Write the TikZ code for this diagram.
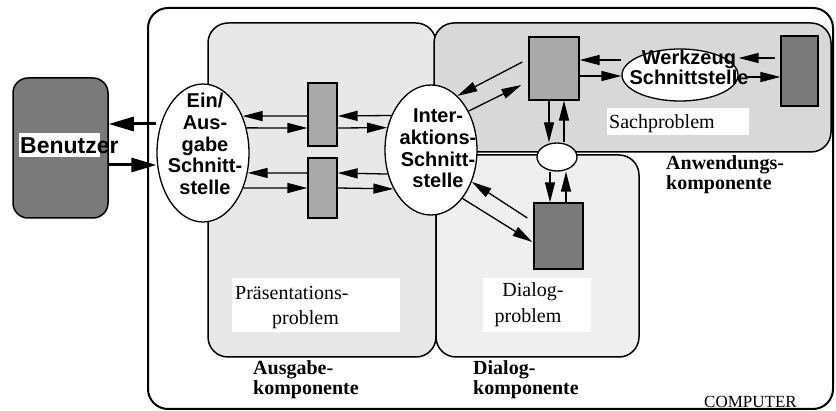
\documentclass[tikz,border=0pt]{standalone}
\usepackage{fontspec}
\setmainfont{Liberation Serif}
\newfontfamily\sansfont{Liberation Sans}
\usetikzlibrary{arrows.meta,shapes.geometric,calc}
\definecolor{darkbox}{HTML}{7A7A7A}
\definecolor{midbox}{HTML}{A9A9A9}
\definecolor{ausg}{HTML}{E8E8E8}
\definecolor{anw}{HTML}{D8D8D8}
\definecolor{dlg}{HTML}{EFEFEF}
\tikzset{
  region/.style={draw, line width=1.5pt, rounded corners=20pt},
  ell/.style={ellipse, draw, fill=white, line width=1.3pt, inner sep=0pt},
  box/.style={rectangle, draw, line width=1.3pt, inner sep=0pt},
  arr/.style={line width=1.3pt, -{Triangle[length=20pt,width=10pt]}},
  bigarr/.style={line width=3pt, -{Triangle[length=25pt,width=14pt]}},
  sl/.style={font=\sansfont\bfseries\fontsize{20}{22}\selectfont, inner sep=0pt, anchor=base},
  sr/.style={font=\fontsize{20}{22}\selectfont, inner sep=0pt},
  br/.style={font=\bfseries\fontsize{20}{22}\selectfont, inner sep=0pt, anchor=base west},
}
\begin{document}
\begin{tikzpicture}[x=1pt,y=-1pt]
\useasboundingbox (0,0) rectangle (836,411);
% computer
\draw[line width=2pt, rounded corners=20pt] (148,8) rectangle (833,409);
% regions
\draw[region, fill=ausg] (208,23) rectangle (436,357);
\draw[region, fill=anw] (434,23) rectangle (831,152);
\draw[region, fill=dlg] (436,155) rectangle (639,357);
% Benutzer
\node[box, fill=darkbox, rounded corners=15pt, minimum width=95pt, minimum height=140pt, line width=1.5pt] (ben) at (60.5,148) {};
\fill[white] (19,133) rectangle (100,157);
\node[font=\sansfont\bfseries\fontsize{23}{25}\selectfont, inner sep=0pt, anchor=base west] (bent) at (20,154) {Benutzer};
% rectangles
\node[box, fill=midbox, minimum width=29pt, minimum height=63pt] (r1) at (322.5,114.5) {};
\node[box, fill=midbox, minimum width=29pt, minimum height=60pt] (r2) at (322.5,188) {};
\node[box, fill=midbox, minimum width=50pt, minimum height=63pt] (ra) at (554,68.5) {};
\node[box, fill=darkbox, minimum width=37pt, minimum height=70pt] (rr) at (799.5,71) {};
\node[box, fill=darkbox, minimum width=49pt, minimum height=66pt] (rd) at (558.5,236) {};
% ellipses
\node[ell, minimum width=92pt, minimum height=138pt] (ea) at (203,153) {};
\node[ell, minimum width=92pt, minimum height=130pt] (ia) at (431,150) {};
\node[ell, minimum width=116pt, minimum height=52pt] (wz) at (680,75) {};
\node[ell, minimum width=40pt, minimum height=28pt] (se) at (557,157) {};
% ellipse texts
\node[sl] (ea1) at (205,108) {Ein/};
\node[sl] (ea2) at (205,130) {Aus-};
\node[sl] (ea3) at (205,152) {gabe};
\node[sl] (ea4) at (205,173) {Schnitt-};
\node[sl] (ea5) at (205,195) {stelle};
\node[sl] (ia1) at (438,123) {Inter-};
\node[sl] (ia2) at (438,145) {aktions-};
\node[sl] (ia3) at (438,167) {Schnitt-};
\node[sl] (ia4) at (438,188) {stelle};
\node[sl] (wz1) at (689,65) {Werkzeug};
\node[sl] (wz2) at (689,85) {Schnittstelle};
% serif labels with white boxes
\fill[white] (232,278) rectangle (400,332);
\node[sr, anchor=base west] (p1) at (235,300) {Präsentations-};
\node[sr, anchor=base west] (p2) at (272,325) {problem};
\fill[white] (483,278) rectangle (591,332);
\node[sr, anchor=base] (d1) at (533,297) {Dialog-};
\node[sr, anchor=base] (d2) at (528,323) {problem};
\fill[white] (607,108) rectangle (749,135);
\node[sr, anchor=base west] (s1) at (609,129) {Sachproblem};
% component labels
\node[br] (k1) at (253,375) {Ausgabe-};
\node[br] (k2) at (253,395) {komponente};
\node[br] (k3) at (666,170) {Anwendungs-};
\node[br] (k4) at (666,190) {komponente};
\node[br] (k5) at (473,375) {Dialog-};
\node[br] (k6) at (473,395) {komponente};
\node[font=\fontsize{17}{19}\selectfont, inner sep=0pt, anchor=base west] (comp) at (704,408) {COMPUTER};
% arrows user
\draw[bigarr] (ea.west |- 0,124) -- (ben.east |- 0,124);
\draw[bigarr] (ben.east |- 0,165) -- (ea.west |- 0,165);
% presentation arrows
\draw[arr] (r1.west |- 0,116) -- (ea.43.6);
\draw[arr] (ea.30.2) -- (r1.west |- 0,128);
\draw[arr] (ia.139.1) -- (r1.east |- 0,116);
\draw[arr] (r1.east |- 0,128) -- (ia.153.1);
\draw[arr] (r2.west |- 0,173) -- (ea.-24.4);
\draw[arr] (ea.-41.5) -- (r2.west |- 0,188);
\draw[arr] (ia.-151.9) -- (r2.east |- 0,173);
\draw[arr] (r2.east |- 0,188) -- (ia.-134.5);
% application arrows
\draw[arr] ($(ra.west)+(-6,-6.5)$) -- (ia.64.2);
\draw[arr] (ia.46.4) -- ($(ra.west)+(-7,16.5)$);
\draw[arr] (wz.west |- 0,60) -- (ra.east |- 0,60);
\draw[arr] (ra.east |- 0,76) -- (wz.west |- 0,76);
\draw[arr] ($(rr.west)+(-5,-13)$) -- (wz.east |- 0,58);
\draw[arr] ($(wz.east)+(8,2)$) -- (rr.west |- 0,77);
% vertical arrows
\draw[arr] (ra.south -| 549,0) -- (se.north -| 549,0);
\draw[arr] (se.north -| 564,0) -- (ra.south -| 564,0);
\draw[arr] (se.south -| 550,0) -- (rd.north -| 550,0);
\draw[arr] (rd.north -| 566,0) -- (se.south -| 566,0);
% dialog diagonals
\draw[arr] ($(rd.west)+(-6,-18)$) -- (ia.-38.8);
\draw[arr] (ia.-57.4) -- ($(rd.west)+(-1,6)$);
\end{tikzpicture}
\end{document}
